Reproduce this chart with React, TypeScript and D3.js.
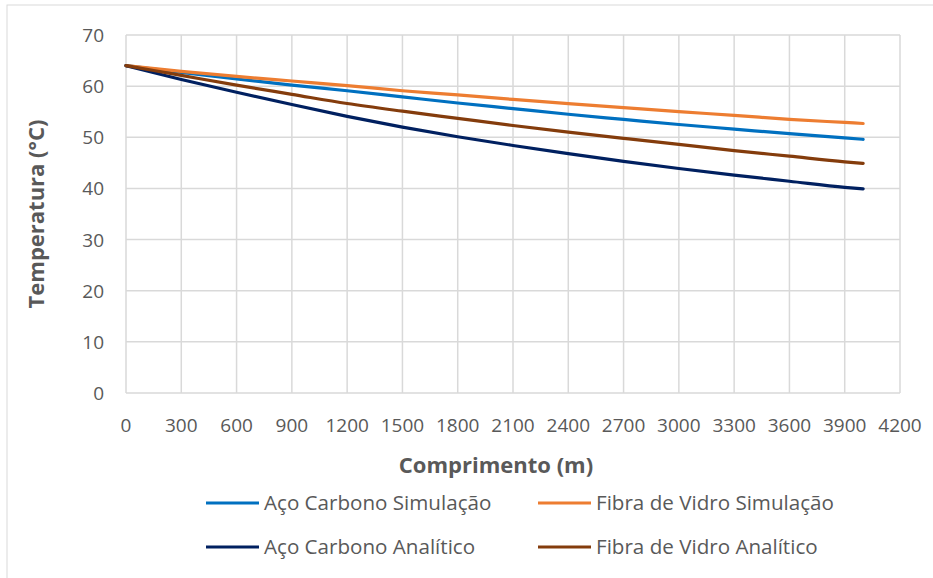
import React from "react";
import * as d3 from "d3";

const distances = [0, 300, 600, 900, 1200, 1500, 1800, 2100, 2400, 2700, 3000, 3300, 3600, 3900, 4000];
const acoSimulacao = [64, 62.7, 61.4, 60.2, 59.1, 57.9, 56.7, 55.6, 54.5, 53.5, 52.5, 51.6, 50.7, 49.9, 49.6];
const fibraSimulacao = [64, 62.9, 61.9, 61.0, 60.1, 59.1, 58.3, 57.4, 56.6, 55.8, 55.0, 54.3, 53.5, 52.9, 52.7];
const acoAnalitico = [64, 61.3, 58.8, 56.4, 54.1, 52.0, 50.1, 48.4, 46.8, 45.3, 43.9, 42.6, 41.4, 40.2, 39.9];
const fibraAnalitico = [64, 62.1, 60.2, 58.4, 56.6, 55.1, 53.7, 52.3, 51.0, 49.8, 48.6, 47.4, 46.3, 45.2, 44.9];
const xTicks = [0, 300, 600, 900, 1200, 1500, 1800, 2100, 2400, 2700, 3000, 3300, 3600, 3900, 4200];
const yTicks = [0, 10, 20, 30, 40, 50, 60, 70];

const series = [
  { name: "Aço Carbono Simulação", values: acoSimulacao, color: "#0070C0" },
  { name: "Fibra de Vidro Simulação", values: fibraSimulacao, color: "#ED7D31" },
  { name: "Aço Carbono Analítico", values: acoAnalitico, color: "#002060" },
  { name: "Fibra de Vidro Analítico", values: fibraAnalitico, color: "#843C0C" },
];

const FONT = "'Open Sans', 'Noto Sans', sans-serif";

export default function App() {
  const W = 933, H = 578;
  const x = d3.scaleLinear().domain([0, 4200]).range([126, 900]);
  const y = d3.scaleLinear().domain([0, 70]).range([393, 35]);
  const line = d3.line<number>().x((_, i) => x(distances[i])).y((d) => y(d)).curve(d3.curveMonotoneX);
  const legendPos = [
    { lx: 206, ly: 503 },
    { lx: 538, ly: 503 },
    { lx: 206, ly: 547 },
    { lx: 538, ly: 547 },
  ];
  return (
    <svg width={W} height={H} style={{ position: "fixed", left: 0, top: 0, background: "#fff" }} fontFamily={FONT}>
      <rect x={7} y={5} width={W} height={H} fill="#fff" stroke="#d9d9d9" strokeWidth={1} />
      {xTicks.map((t) => (
        <line key={"gx" + t} x1={x(t)} x2={x(t)} y1={y(70)} y2={y(0)} stroke="#d9d9d9" strokeWidth={1.5} />
      ))}
      {yTicks.map((t) => (
        <line key={"gy" + t} x1={x(0)} x2={x(4200)} y1={y(t)} y2={y(t)} stroke="#d9d9d9" strokeWidth={1.5} />
      ))}
      {xTicks.map((t) => (
        <text key={"tx" + t} x={x(t)} y={432} textAnchor="middle" fontSize={19} fill="#595959">{t}</text>
      ))}
      {yTicks.map((t) => (
        <text key={"ty" + t} x={104} y={y(t) + 7} textAnchor="end" fontSize={19} fill="#595959">{t}</text>
      ))}
      {series.map((s) => (
        <path key={s.name} d={line(s.values) || ""} fill="none" stroke={s.color} strokeWidth={3.2} strokeLinecap="round" />
      ))}
      <text x={496} y={473} textAnchor="middle" fontSize={22} fontWeight="bold" fill="#595959">Comprimento (m)</text>
      <text transform={`translate(44,214) rotate(-90)`} textAnchor="middle" fontSize={22} fontWeight="bold" fill="#595959">Temperatura (°C)</text>
      {series.map((s, i) => (
        <g key={"lg" + s.name}>
          <line x1={legendPos[i].lx} x2={legendPos[i].lx + 53} y1={legendPos[i].ly} y2={legendPos[i].ly} stroke={s.color} strokeWidth={3.2} />
          <text x={legendPos[i].lx + 58} y={legendPos[i].ly + 7} fontSize={20.6} fill="#595959">{s.name}</text>
        </g>
      ))}
    </svg>
  );
}
